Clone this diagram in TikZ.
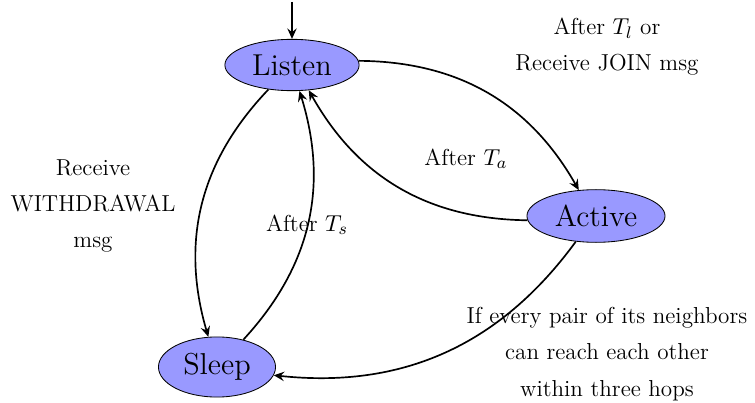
\documentclass[tikz,border=0pt,11pt]{standalone}
\usetikzlibrary{arrows.meta,shapes.geometric}
\definecolor{statefill}{RGB}{153,153,255}
\begin{document}
\begin{tikzpicture}[x=0.476pt,y=-0.476pt,
  state/.style={ellipse,draw,fill=statefill,font=\Large,line width=0.4pt},
  trans/.style={thick,-{Stealth[length=5pt,width=4.5pt,inset=1.8pt]}},
  lbl/.style={align=center,inner sep=0pt,font=\fontsize{11}{17.2}\selectfont}]
\useasboundingbox (0,0) rectangle (755,403);

% states
\node[state] (listen) at (292,65) {Listen};
\node[state] (active) at (596,216) {Active};
\node[state] (sleep)  at (217,367) {Sleep};
\coordinate (init) at (292,2);

% transitions
\draw[trans] (init) -- (listen);
\draw[trans] (listen) to[bend left=30] (active);
\draw[trans] (active) to[bend left=30] (listen);
\draw[trans] (listen) to[bend right=30] (sleep);
\draw[trans] (sleep) to[bend right=30] (listen);
\draw[trans] (active) to[bend left=30] (sleep);

% transition conditions
\node[lbl] (lJoin) at (607,47) {After $T_l$ or\\Receive JOIN msg};
\node[lbl] (lAct)  at (466,159) {After $T_a$};
\node[lbl] (lWd)   at (93,206) {Receive\\WITHDRAWAL\\msg};
\node[lbl] (lSl)   at (307,225) {After $T_s$};
\node[lbl] (lHop)  at (607,354) {If every pair of its neighbors\\can reach each other\\within three hops};
\end{tikzpicture}
\end{document}
